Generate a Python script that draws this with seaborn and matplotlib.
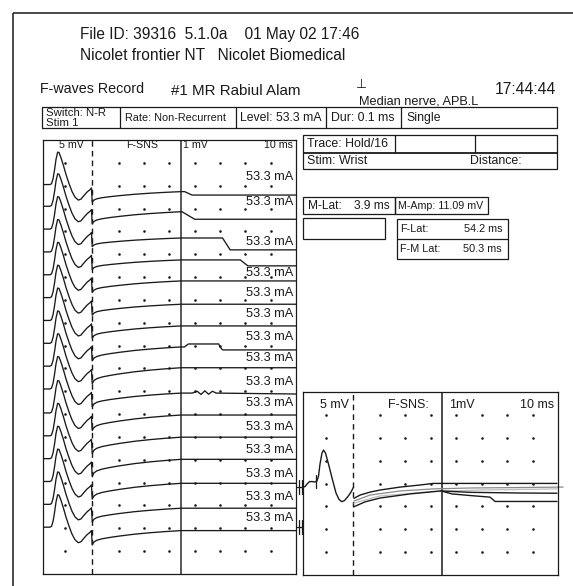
import numpy as np
import pandas as pd
import matplotlib
matplotlib.use("Agg")
import matplotlib.pyplot as plt
import seaborn as sns
from matplotlib.patches import Rectangle

sns.set_style("white")
plt.rcParams['font.family'] = ['Liberation Sans', 'DejaVu Sans']

# ---------------- data ----------------
# left panel: 16 held F-wave traces, x in ms (10 ms/div), y in divisions
trace_ids = list(range(1, 17))
baseline = [17.05, 16.1, 15.1, 14.1, 13.1, 12.1, 11.1, 10.1, 9.1, 8.1, 7.05, 6.05, 5.05, 4.05, 3.05, 2.05]
plateau = [16.74, 15.86, 14.71, 13.75, 12.83, 11.81, 10.86, 9.94, 9.03, 7.92, 6.96, 5.99, 5.02, 3.97, 2.88, 1.90]
end_level = [16.59, 15.53, 14.19, 13.49, 12.83, 11.81, 10.86, 9.81, 9.03, 7.88, 6.96, 5.99, 5.02, 3.97, 2.88, 1.90]
step_start = [56, 55, 71, 78, 100, 100, 100, 70, 100, 100, 100, 100, 100, 100, 100, 100]
step_end = [59, 60, 74, 81, 100, 100, 100, 71, 100, 100, 100, 100, 100, 100, 100, 100]
label_level = [17.40, 16.30, 14.55, None, 13.19, 12.32, 11.38, 10.39, 9.44, 8.42, 7.47, 6.42, 5.43, 4.38, 3.38, 2.44]
stim_label = "53.3 mA"

# M-response shape (relative to each trace's baseline)
m_ms = [0.0, 2.9, 3.5, 4.1, 4.7, 5.25, 5.9, 6.45, 7.2, 8.2, 9.2, 10.4, 11.6, 12.75, 14.05, 15.1, 16.3, 17.5, 18.7, 19.25]
m_dy = [0.0, 0.0, 0.04, 0.26, 0.66, 1.10, 1.42, 1.40, 1.18, 0.83, 0.44, 0.04, -0.31, -0.55, -0.68, -0.64, -0.48, -0.33, -0.22, -0.15]
dip_offset = -0.77
# F-segment recovery from the dip to the plateau (fraction of the rise)
f_ms = [19.55, 20.25, 21.4, 23.4, 26.6, 30.5, 36.4, 42.4, 48.3, 54.6]
f_frac = [0.0, 0.2, 0.32, 0.42, 0.52, 0.62, 0.75, 0.85, 0.93, 1.0]
# small irregularities
bump_trace = 8
bump_ms = [56, 57.5, 69.5]
bump_dy = [0.0, 0.13, 0.13]
squig_trace = 10
squig_ms = [56, 59, 61, 62.5, 64, 65.5, 67, 68.5]
squig_dy = [0.0, 0.0, 0.08, -0.06, 0.10, -0.05, 0.08, 0.0]
marker_levels = [3.8, 2.07]

# bottom-right panel: superimposed traces
bm_ms = [0.0, 0.67, 1.45, 2.43, 3.61, 4.59, 5.38, 5.97, 6.56, 7.34, 7.93, 8.72, 9.89, 11.27, 12.84, 14.02, 15.08, 16.18, 17.55, 18.73, 19.63]
bm_lv = [3.85, 3.87, 3.98, 4.09, 4.09, 4.07, 4.12, 4.33, 4.86, 5.34, 5.47, 5.34, 4.86, 4.25, 3.59, 3.31, 3.21, 3.26, 3.44, 3.63, 3.83]
fa_ms = [19.9, 22.3, 26.2, 30.1, 38.0, 45.8, 51.0, 99.6]
fa_lv = [3.36, 3.50, 3.63, 3.72, 3.85, 3.94, 4.01, 4.01]
fb_ms = [19.9, 26.2, 38.0, 51.0, 65.5, 85.1, 102.0]
fb_lv = [3.24, 3.50, 3.68, 3.77, 3.81, 3.83, 3.85]
fc_ms = [19.9, 30.1, 51.0, 69.4, 99.6]
fc_lv = [3.15, 3.46, 3.66, 3.72, 3.77]
fd_ms = [19.9, 24.2, 30.1, 41.9, 54.1, 58.4, 65.5, 73.3, 75.3, 99.6]
fd_lv = [2.99, 3.20, 3.37, 3.55, 3.68, 3.55, 3.48, 3.41, 3.22, 3.22]
fe_ms = [54.1, 65.5, 85.1, 99.6]
fe_lv = [3.68, 3.62, 3.59, 3.58]
m_lat_cursor = 4.9

dot_cols = [9, 30, 40, 50, 60, 70, 80, 90]
left_rows = list(range(1, 19))
bottom_rows = list(range(1, 8))
dashed_ms = 19.6
f_lat_ms = 54.6

# ---------------- figure ----------------
W, H = 573, 586
fig = plt.figure(figsize=(W / 100, H / 100), dpi=100)
bg = fig.add_axes([0, 0, 1, 1])
bg.set_xlim(0, W)
bg.set_ylim(H, 0)
bg.axis('off')

INK = '#1a1a1a'


def rect(x0, y0, x1, y1, lw=0.9):
    bg.add_patch(Rectangle((x0, y0), x1 - x0, y1 - y0, fill=False, ec=INK, lw=lw))


def hline(y, x0, x1, lw=0.9):
    bg.plot([x0, x1], [y, y], color=INK, lw=lw, solid_capstyle='butt')


def vline(x, y0, y1, lw=0.9):
    bg.plot([x, x], [y0, y1], color=INK, lw=lw, solid_capstyle='butt')


def txt(x, y, s, size, ha='left', va='center'):
    bg.text(x, y, s, fontsize=size, ha=ha, va=va, color=INK)


# outer frame (top & left visible)
hline(12.5, 12.5, W, lw=1.1)
vline(12.5, 12.5, H, lw=1.1)

txt(79.5, 35, "File ID: 39316  5.1.0a    01 May 02 17:46", 11.2)
txt(79.5, 55, "Nicolet frontier NT   Nicolet Biomedical", 11.2)
txt(39.5, 89, "F-waves Record", 10.3)
txt(171, 91, "#1 MR Rabiul Alam", 10.9)
txt(355.5, 85, "\u22a5", 9)
txt(359, 102, "Median nerve, APB.L", 9.2)
txt(556, 89.5, "17:44:44", 11.3, ha='right')

# stimulation table
rect(42, 107.3, 557, 128.3)
for xv in [119.6, 236, 326, 401]:
    vline(xv, 107.3, 128.3)
txt(46.5, 112.6, "Switch: N-R", 8.2)
txt(46.5, 123.0, "Stim 1", 8.2)
txt(125, 118, "Rate: Non-Recurrent", 7.8)
txt(240, 118, "Level: 53.3 mA", 8.8)
txt(331, 118, "Dur: 0.1 ms", 8.8)
txt(406, 118, "Single", 8.8)

# trace / stim box
rect(302.7, 135, 556.7, 169.3)
hline(153.3, 302.7, 556.7, lw=1.3)
vline(395, 135, 153.3)
vline(475, 135, 153.3)
txt(307, 144.2, "Trace: Hold/16", 8.9)
txt(307, 161.5, "Stim: Wrist", 8.9)
txt(521.7, 161.5, "Distance:", 8.9, ha='right')

# latency boxes
rect(303.3, 196.7, 395, 214.3)
rect(395, 196.7, 488.3, 214.3)
txt(308, 205.6, "M-Lat:", 8.6)
txt(390, 205.6, "3.9 ms", 8.6, ha='right')
txt(397.5, 205.6, "M-Amp: 11.09 mV", 7.7)
rect(303.3, 218.3, 385, 239)
rect(397.3, 219, 508.3, 259)
hline(239, 397.3, 508.3)
txt(400, 229, "F-Lat:", 7.8)
txt(502, 229, "54.2 ms", 7.8, ha='right')
txt(400, 249, "F-M Lat:", 7.8)
txt(502, 249, "50.3 ms", 7.8, ha='right')


def panel(x0, y0, x1, y1):
    ax = fig.add_axes([x0 / W, 1 - y1 / H, (x1 - x0) / W, (y1 - y0) / H])
    ax.set_xticks([])
    ax.set_yticks([])
    for s in ax.spines.values():
        s.set_visible(True)
        s.set_color(INK)
        s.set_linewidth(0.9)
    ax.set_facecolor('white')
    return ax


# ---------------- left panel ----------------
axL = panel(42.7, 140, 296, 574)
axL.set_xlim(0, 100)
axL.set_ylim(0, 19)

records = []
for k, tid in enumerate(trace_ids):
    b = baseline[k]
    xs = list(m_ms)
    ys = [b + d for d in m_dy]
    dip = b + dip_offset
    p = plateau[k]
    xs += f_ms
    ys += [dip + fr * (p - dip) for fr in f_frac]
    tail = []
    if step_start[k] < 100:
        tail += [(step_start[k], p), (step_end[k], end_level[k])]
    tail.append((100, end_level[k]))
    if tid == bump_trace:
        tail += [(x, p + d) for x, d in zip(bump_ms, bump_dy)]
    if tid == squig_trace:
        tail += [(x, p + d) for x, d in zip(squig_ms, squig_dy)]
    tail.sort()
    xs += [t[0] for t in tail]
    ys += [t[1] for t in tail]
    for i, (x, y) in enumerate(zip(xs, ys)):
        records.append({'trace': tid, 'order': i, 'ms': x, 'level': y})
df = pd.DataFrame(records)

dots = pd.DataFrame([(c, r) for c in dot_cols for r in left_rows], columns=['ms', 'row'])
sns.scatterplot(data=dots, x='ms', y='row', ax=axL, s=3.5, color=INK, linewidth=0, legend=False)
axL.axvline(f_lat_ms, color='#4a4a4a', lw=1.3)
axL.axvline(dashed_ms, color=INK, lw=1.0, ls=(0, (4, 3)))
sns.lineplot(data=df, x='ms', y='level', units='trace', estimator=None, sort=False,
             color=INK, lw=0.95, ax=axL, legend=False)
for k, lv in enumerate(label_level):
    if lv is not None:
        axL.text(99, lv, stim_label, ha='right', va='center', fontsize=9.2, color=INK)
axL.text(6.5, 18.78, "5 mV", fontsize=7.7, va='center', color=INK)
axL.text(32.9, 18.78, "F-SNS", fontsize=7.7, va='center', color=INK)
axL.text(55.4, 18.78, "1 mV", fontsize=7.7, va='center', color=INK)
axL.text(98.7, 18.78, "10 ms", fontsize=7.7, va='center', ha='right', color=INK)
for lv in marker_levels:
    axL.plot([100.2, 103.4], [lv, lv], color=INK, lw=0.9, clip_on=False)
    for xm in [101.2, 102.3]:
        axL.plot([xm, xm], [lv - 0.3, lv + 0.3], color=INK, lw=0.9, clip_on=False)
axL.set_xlabel('')
axL.set_ylabel('')

# ---------------- bottom-right panel ----------------
axB = panel(303.3, 392.3, 558, 575)
axB.set_xlim(0, 100)
axB.set_ylim(0, 8)
dotsB = pd.DataFrame([(c, r) for c in dot_cols for r in bottom_rows], columns=['ms', 'row'])
sns.scatterplot(data=dotsB, x='ms', y='row', ax=axB, s=3.5, color=INK, linewidth=0, legend=False)
axB.axvline(f_lat_ms, color=INK, lw=1.1)
axB.axvline(dashed_ms, color=INK, lw=1.0, ls=(0, (4, 3)))
sns.lineplot(x=fc_ms, y=fc_lv, sort=False, estimator=None, color='#bdbdbd', lw=0.9, ax=axB)
sns.lineplot(x=fb_ms, y=fb_lv, sort=False, estimator=None, color='#8a8a8a', lw=0.9, ax=axB)
axB.lines[-1].set_clip_on(False)
sns.lineplot(x=fe_ms, y=fe_lv, sort=False, estimator=None, color=INK, lw=1.0, ax=axB)
sns.lineplot(x=fd_ms, y=fd_lv, sort=False, estimator=None, color=INK, lw=1.0, ax=axB)
sns.lineplot(x=fa_ms, y=fa_lv, sort=False, estimator=None, color=INK, lw=1.0, ax=axB)
sns.lineplot(x=bm_ms, y=bm_lv, sort=False, estimator=None, color=INK, lw=1.0, ax=axB)
axB.plot([m_lat_cursor, m_lat_cursor], [3.8, 4.4], color=INK, lw=0.9)
axB.text(6.56, 7.44, "5 mV", fontsize=9, va='center', color=INK)
axB.text(33.4, 7.44, "F-SNS:", fontsize=9, va='center', color=INK)
axB.text(57.3, 7.44, "1mV", fontsize=9, va='center', color=INK)
axB.text(98.4, 7.44, "10 ms", fontsize=9, va='center', ha='right', color=INK)
axB.set_xlabel('')
axB.set_ylabel('')

fig.savefig("out.png", dpi=100)
